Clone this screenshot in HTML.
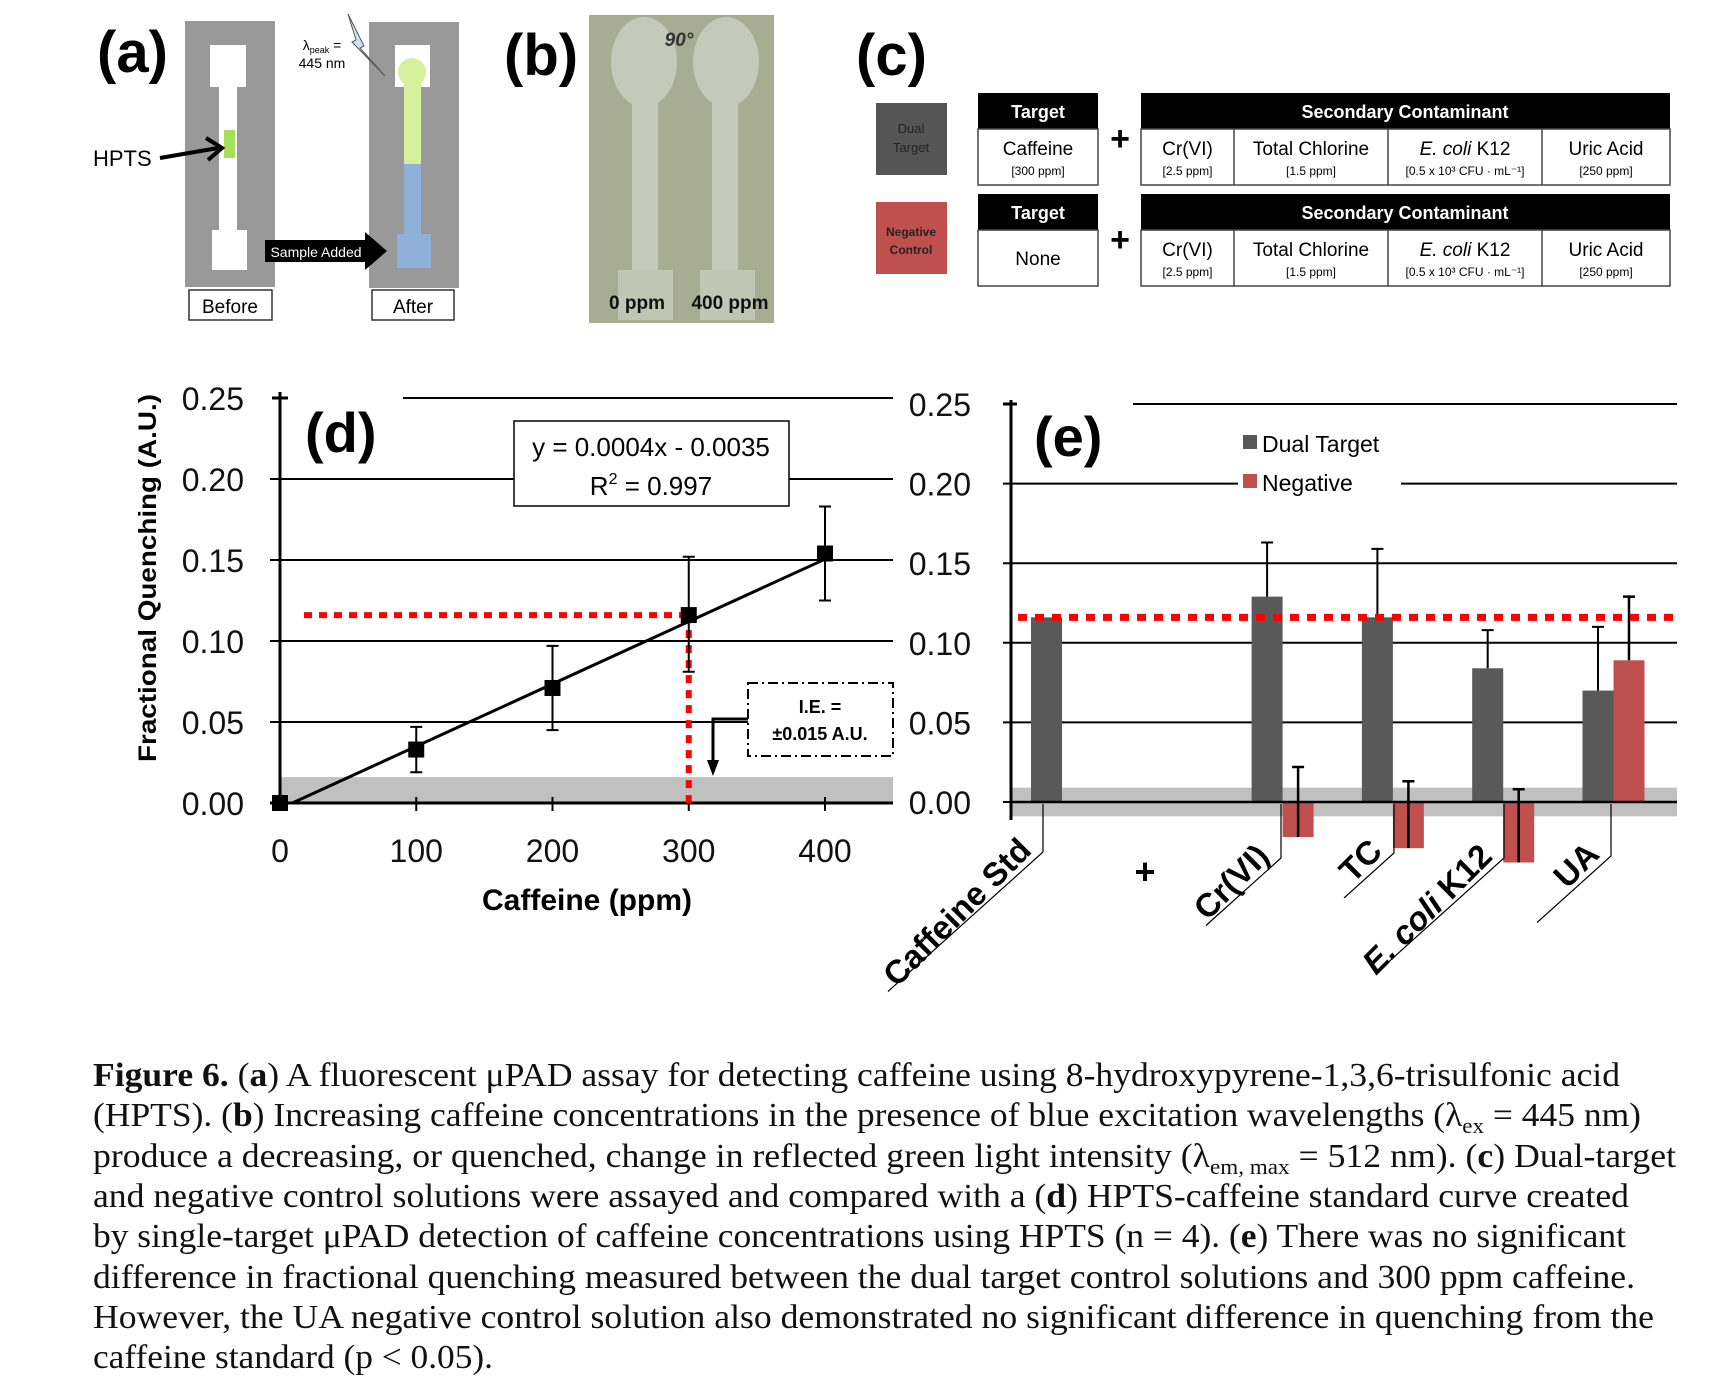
<!DOCTYPE html>
<html><head><meta charset="utf-8"><style>
html,body{margin:0;padding:0;background:#fff}
svg{display:block}
text{font-family:"Liberation Sans",sans-serif}
.cap{font-family:"Liberation Serif",serif;font-size:34px;fill:#111}
</style></head><body>
<svg id="fig" width="1724" height="1392" viewBox="0 0 1724 1392" xmlns="http://www.w3.org/2000/svg">
<!-- Panel a -->
<g>
<text x="97" y="72" font-size="58" font-weight="bold">(a)</text>
<rect x="185" y="21" width="90" height="266" fill="#999"/>
<rect x="210" y="45" width="36" height="42" fill="#fff"/>
<rect x="219" y="87" width="18" height="145" fill="#fff"/>
<rect x="212" y="230" width="35" height="40" fill="#fff"/>
<rect x="224" y="130" width="11" height="28" fill="#a6e05a"/>
<text x="93" y="166" font-size="22">HPTS</text>
<line x1="160" y1="158" x2="218" y2="148" stroke="#000" stroke-width="4"/>
<path d="M206 138 L222 148 L208 160" fill="none" stroke="#000" stroke-width="4"/>
<rect x="369" y="22" width="90" height="266" fill="#999"/>
<rect x="395" y="45" width="35" height="42" fill="#fff"/>
<circle cx="412" cy="72" r="14" fill="#d4f09a"/>
<rect x="404" y="72" width="17" height="92" fill="#d4f09a"/>
<rect x="404" y="164" width="17" height="70" fill="#8fb0d8"/>
<rect x="397" y="234" width="34" height="34" fill="#8fb0d8"/>
<polygon points="265,240 365,240 365,232 387,251 365,270 365,262 265,262" fill="#000"/>
<text x="316" y="257" font-size="14" fill="#fff" text-anchor="middle">Sample Added</text>
<text x="322" y="50" font-size="14" text-anchor="middle">λ<tspan font-size="9" dy="3">peak</tspan><tspan dy="-3"> =</tspan></text>
<text x="322" y="68" font-size="14" text-anchor="middle">445 nm</text>
<polygon points="348,14 356,40 352,42 385,76 360,48 364,46" fill="#cfe3ee" stroke="#555" stroke-width="1"/>
<rect x="189" y="290" width="83" height="30" fill="#fff" stroke="#333" stroke-width="1.5"/>
<text x="230" y="313" font-size="19" text-anchor="middle">Before</text>
<rect x="372" y="290" width="82" height="30" fill="#fff" stroke="#333" stroke-width="1.5"/>
<text x="413" y="313" font-size="19" text-anchor="middle">After</text>
</g>
<!-- Panel b -->
<g>
<text x="504" y="75" font-size="58" font-weight="bold">(b)</text>
<rect x="589" y="15" width="185" height="308" fill="#a7ac92"/>
<ellipse cx="644" cy="62" rx="33" ry="45" fill="#c4cab9"/>
<ellipse cx="726" cy="62" rx="33" ry="45" fill="#c4cab9"/>
<rect x="632" y="95" width="26" height="195" fill="#c4cab9"/>
<rect x="712" y="95" width="26" height="195" fill="#c4cab9"/>
<rect x="618" y="270" width="55" height="50" fill="#c0c6b4"/>
<rect x="700" y="270" width="55" height="50" fill="#c0c6b4"/>
<text x="679" y="46" font-size="19" font-style="italic" font-weight="bold" fill="#333" text-anchor="middle">90°</text>
<text x="637" y="309" font-size="19" font-weight="bold" fill="#111" text-anchor="middle">0 ppm</text>
<text x="730" y="309" font-size="19" font-weight="bold" fill="#111" text-anchor="middle">400 ppm</text>
</g>
<!-- Panel c -->
<g>
<text x="856" y="75" font-size="58" font-weight="bold">(c)</text>
<rect x="876" y="103" width="71" height="72" fill="#555"/>
<text x="911" y="133" font-size="13" fill="#222" text-anchor="middle">Dual</text>
<text x="911" y="152" font-size="13" fill="#222" text-anchor="middle">Target</text>
<rect x="876" y="202" width="71" height="72" fill="#c0504d"/>
<text x="911" y="236" font-size="12" font-weight="bold" fill="#222" text-anchor="middle">Negative</text>
<text x="911" y="254" font-size="12" font-weight="bold" fill="#222" text-anchor="middle">Control</text>
<g id="tables"></g>
</g>
<!-- Panel d -->
<g id="chartD"></g>
<!-- Panel e -->
<g id="chartE"></g>
<!-- Caption -->
<g>
<text class="cap" x="93" y="1086" textLength="1527" lengthAdjust="spacingAndGlyphs"><tspan font-weight="bold">Figure 6.</tspan>  (<tspan font-weight="bold">a</tspan>) A fluorescent μPAD assay for detecting caffeine using 8-hydroxypyrene-1,3,6-trisulfonic acid</text>
<text class="cap" x="93" y="1126" textLength="1548" lengthAdjust="spacingAndGlyphs">(HPTS). (<tspan font-weight="bold">b</tspan>) Increasing caffeine concentrations in the presence of blue excitation wavelengths (λ<tspan font-size="22" dy="7">ex</tspan><tspan dy="-7"> = 445 nm)</tspan></text>
<text class="cap" x="93" y="1167" textLength="1583" lengthAdjust="spacingAndGlyphs">produce a decreasing, or quenched, change in reflected green light intensity (λ<tspan font-size="22" dy="7">em, max</tspan><tspan dy="-7"> = 512 nm). (</tspan><tspan font-weight="bold">c</tspan>) Dual-target</text>
<text class="cap" x="93" y="1207" textLength="1536" lengthAdjust="spacingAndGlyphs">and negative control solutions were assayed and compared with a (<tspan font-weight="bold">d</tspan>) HPTS-caffeine standard curve created</text>
<text class="cap" x="93" y="1247" textLength="1533" lengthAdjust="spacingAndGlyphs">by single-target μPAD detection of caffeine concentrations using HPTS (n = 4). (<tspan font-weight="bold">e</tspan>) There was no significant</text>
<text class="cap" x="93" y="1288" textLength="1542" lengthAdjust="spacingAndGlyphs">difference in fractional quenching measured between the dual target control solutions and 300 ppm caffeine.</text>
<text class="cap" x="93" y="1328" textLength="1561" lengthAdjust="spacingAndGlyphs">However, the UA negative control solution also demonstrated no significant difference in quenching from the</text>
<text class="cap" x="93" y="1368" textLength="400" lengthAdjust="spacingAndGlyphs">caffeine standard (p &lt; 0.05).</text>
</g>
</svg>
<script>
const NS='http://www.w3.org/2000/svg';
function mk(parent,tag,attrs,txt){const e=document.createElementNS(NS,tag);for(const k in attrs)e.setAttribute(k,attrs[k]);if(txt!==undefined)e.textContent=txt;parent.appendChild(e);return e;}

// ---- Panel c tables ----
const tRows=[{y:93,target:'Caffeine',tsub:'[300 ppm]'},{y:194,target:'None',tsub:''}];
const secNames=['Cr(VI)','Total Chlorine','E. coli K12','Uric Acid'];
const secSubs=['[2.5 ppm]','[1.5 ppm]','[0.5 x 10³ CFU · mL⁻¹]','[250 ppm]'];
const colX=[1141,1234,1388,1542,1670];
const tg=document.getElementById('tables');
tRows.forEach((r,ri)=>{
  const h=r.y, bodyH=56;
  let e=mk(tg,'rect',{x:978,y:h,width:120,height:36,fill:'#000'});
  
  
  mk(tg,'text',{x:1038,y:h+25,'font-size':18,'font-weight':'bold',fill:'#fff','text-anchor':'middle'},'Target');
  mk(tg,'rect',{x:978,y:h+36,width:120,height:bodyH,fill:'#fff',stroke:'#444','stroke-width':1.5});
  if(r.tsub){mk(tg,'text',{x:1038,y:h+62,'font-size':19,'text-anchor':'middle'},r.target);mk(tg,'text',{x:1038,y:h+82,'font-size':12,'text-anchor':'middle'},r.tsub);}
  else mk(tg,'text',{x:1038,y:h+71,'font-size':19,'text-anchor':'middle'},r.target);
  mk(tg,'text',{x:1120,y:h+57,'font-size':34,'font-weight':'bold','text-anchor':'middle'},'+');
  e=mk(tg,'rect',{x:1141,y:h,width:529,height:36,fill:'#000'});
  
  
  mk(tg,'text',{x:1405,y:h+25,'font-size':18,'font-weight':'bold',fill:'#fff','text-anchor':'middle'},'Secondary Contaminant');
  mk(tg,'rect',{x:1141,y:h+36,width:529,height:bodyH,fill:'#fff',stroke:'#444','stroke-width':1.5});
  secNames.forEach((n,i)=>{
    const cx=(colX[i]+colX[i+1])/2;
    if(i>0)mk(tg,'line',{x1:colX[i],y1:h+36,x2:colX[i],y2:h+36+bodyH,stroke:'#444','stroke-width':1.5});
    const t=mk(tg,'text',{x:cx,y:h+62,'font-size':19,'text-anchor':'middle'},n);
    if(i===2){t.textContent='';mk(t,'tspan',{'font-style':'italic'},'E. coli');mk(t,'tspan',{},' K12');}
    mk(tg,'text',{x:cx,y:h+82,'font-size':12,'text-anchor':'middle'},secSubs[i]);
  });
});

// ---- Panel d data ----
const dX=[0,100,200,300,400];
const dY=[0,0.033,0.071,0.116,0.154];
const dErrLo=[0,0.014,0.026,0.035,0.029];
const dErrHi=[0,0.014,0.026,0.036,0.029];
const dXTicks=[0,100,200,300,400];
const dYTicks=[0,0.05,0.10,0.15,0.20,0.25];
const dSlope=[0.000385];
const dIntercept=[-0.0035];
const dThreshold=[0.116];
const dBand=[0.016];

const D=document.getElementById('chartD');
const dx=v=>280+v*1.3625, dy=v=>803-v*1620;
mk(D,'rect',{x:280,y:dy(dBand[0]),width:893-280,height:dy(0)-dy(dBand[0]),fill:'#c0c0c0'});
dYTicks.forEach(t=>{
  const l=mk(D,'line',{x1:t===0.25?403:270,y1:dy(t),x2:893,y2:dy(t),stroke:'#000','stroke-width':t===0?3:2});
  
  
  const tx=mk(D,'text',{x:244,y:dy(t)+12,'font-size':32,'text-anchor':'end',fill:'#111'},t.toFixed(2));
  
  
});
const eb=mk(D,'rect',{x:514,y:421,width:275,height:85,fill:'#fff',stroke:'#000','stroke-width':1.5});


mk(D,'text',{x:651,y:456,'font-size':26,'text-anchor':'middle'},'y = 0.0004x - 0.0035');
const r2=mk(D,'text',{x:651,y:495,'font-size':26,'text-anchor':'middle'},'R');
mk(r2,'tspan',{'font-size':16,dy:-11},'2');
mk(r2,'tspan',{dy:11},' = 0.997');
mk(D,'line',{x1:280,y1:392,x2:280,y2:808,stroke:'#000','stroke-width':3});
mk(D,'line',{x1:272,y1:dy(0.25),x2:288,y2:dy(0.25),stroke:'#000','stroke-width':3});
dXTicks.forEach(t=>{
  mk(D,'line',{x1:dx(t),y1:dy(0)-6,x2:dx(t),y2:dy(0)+8,stroke:'#000','stroke-width':2});
  const tx=mk(D,'text',{x:dx(t),y:862,'font-size':32,'text-anchor':'middle',fill:'#111'},String(t));
  
  
});
let t=mk(D,'text',{x:587,y:910,'font-size':30,'font-weight':'bold','text-anchor':'middle'},'Caffeine (ppm)');


t=mk(D,'text',{x:0,y:0,'font-size':25,'font-weight':'bold','text-anchor':'middle',transform:'translate(156,578) rotate(-90)',textLength:368,lengthAdjust:'spacingAndGlyphs'},'Fractional Quenching (A.U.)');


t=mk(D,'text',{x:305,y:452,'font-size':56,'font-weight':'bold'},'(d)');


mk(D,'line',{x1:304,y1:dy(dThreshold[0]),x2:dx(300),y2:dy(dThreshold[0]),stroke:'#f00','stroke-width':6,'stroke-dasharray':'8 7'});
mk(D,'line',{x1:dx(300),y1:dy(dThreshold[0]),x2:dx(300),y2:dy(0),stroke:'#f00','stroke-width':6,'stroke-dasharray':'8 7'});
const x0=-dIntercept[0]/dSlope[0];
const rl=mk(D,'line',{x1:dx(x0),y1:dy(0),x2:dx(400),y2:dy(dSlope[0]*400+dIntercept[0]),stroke:'#000','stroke-width':3});


dX.forEach((xv,i)=>{
  const cx=dx(xv),cy=dy(dY[i]);
  if(dErrHi[i]>0){
    const top=dy(dY[i]+dErrHi[i]),bot=dy(dY[i]-dErrLo[i]);
    const eg=mk(D,'path',{d:`M${cx} ${top}V${bot}M${cx-6} ${top}H${cx+6}M${cx-6} ${bot}H${cx+6}`,stroke:'#000','stroke-width':2,fill:'none'});
    
    
  }
  const p=mk(D,'rect',{x:cx-8,y:cy-8,width:16,height:16,fill:'#000'});
  
  
});
const ieb=mk(D,'rect',{x:748,y:683,width:145,height:73,fill:'#fff',stroke:'#000','stroke-width':2,'stroke-dasharray':'10 4 2 4'});


mk(D,'text',{x:820,y:713,'font-size':18,'font-weight':'bold','text-anchor':'middle'},'I.E. =');
mk(D,'text',{x:820,y:740,'font-size':18,'font-weight':'bold','text-anchor':'middle'},'±0.015 A.U.');
mk(D,'path',{d:'M748 719 H713 V765',stroke:'#000','stroke-width':3,fill:'none'});
mk(D,'polygon',{points:'707,760 719,760 713,776',fill:'#000'});

// ---- Panel e data ----
const eCats=['Caffeine Std','Cr(VI)','TC','E. coli K12','UA'];
const eSlots=[0,2,3,4,5];
const eDual=[0.116,0.129,0.116,0.084,0.070];
const eDualErr=[0,0.034,0.043,0.024,0.040];
const eNeg=[null,-0.022,-0.029,-0.038,0.089];
const eNegErr=[null,0.044,0.042,0.046,0.040];
const eYTicks=[0,0.05,0.10,0.15,0.20,0.25];
const eThreshold=[0.116];
const eBand=[0.009];

const E=document.getElementById('chartE');
const ey=v=>802-v*1592;
const slotX=s=>1031+s*110.3;
const BW=31;
mk(E,'rect',{x:1011,y:ey(eBand[0]),width:1677-1011,height:ey(-eBand[0])-ey(eBand[0]),fill:'#c0c0c0'});
eYTicks.forEach(tv=>{
  const segs=tv===0.25?[[1133,1677]]:(tv===0.20?[[1003,1238],[1401,1677]]:[[1003,1677]]);
  segs.forEach(s=>{
    const l=mk(E,'line',{x1:s[0],y1:ey(tv),x2:s[1],y2:ey(tv),stroke:'#000','stroke-width':2});
    
    
  });
  const tx=mk(E,'text',{x:971,y:ey(tv)+12,'font-size':32,'text-anchor':'end',fill:'#111'},tv.toFixed(2));
  
  
});
mk(E,'line',{x1:1011,y1:ey(0.25)-4,x2:1011,y2:820,stroke:'#000','stroke-width':3});
mk(E,'line',{x1:1003,y1:ey(0.25),x2:1017,y2:ey(0.25),stroke:'#000','stroke-width':3});
t=mk(E,'text',{x:1034,y:456,'font-size':56,'font-weight':'bold'},'(e)');


let lg=mk(E,'rect',{x:1243,y:435,width:14,height:14,fill:'#595959'});


mk(E,'text',{x:1262,y:452,'font-size':23},'Dual Target');
lg=mk(E,'rect',{x:1243,y:474,width:14,height:14,fill:'#c0504d'});


mk(E,'text',{x:1262,y:491,'font-size':23},'Negative');
eCats.forEach((c,i)=>{
  const x=slotX(eSlots[i]);
  const v=eDual[i];
  let b=mk(E,'rect',{x:x,y:Math.min(ey(v),ey(0)),width:BW,height:Math.abs(ey(v)-ey(0)),fill:'#595959'});
  
  
  if(eDualErr[i]>0){
    const cx=x+BW/2,top=ey(v+eDualErr[i]);
    const eg=mk(E,'path',{d:`M${cx} ${ey(v)}V${top}M${cx-6} ${top}H${cx+6}`,stroke:'#000','stroke-width':2,fill:'none'});
    
    
  }
  const n=eNeg[i];
  if(n!==null){
    const nx=x+BW;
    b=mk(E,'rect',{x:nx,y:Math.min(ey(n),ey(0)),width:BW,height:Math.abs(ey(n)-ey(0)),fill:'#c0504d'});
    
    
    const cx=nx+BW/2,top=ey(n+eNegErr[i]);
    const eg=mk(E,'path',{d:`M${cx} ${ey(n)}V${top}M${cx-6} ${top}H${cx+6}`,stroke:'#000','stroke-width':2.5,fill:'none'});
    
    
  }
});
mk(E,'line',{x1:1011,y1:ey(0),x2:1677,y2:ey(0),stroke:'#000','stroke-width':2.5});
mk(E,'line',{x1:1018,y1:ey(eThreshold[0]),x2:1674,y2:ey(eThreshold[0]),stroke:'#f00','stroke-width':7,'stroke-dasharray':'9 8'});
const leadX=[1043,1281,1394,1504,1611];
const leadY=[852,858,853,858,856];
const leadLen=[155,75,50,128,74];
eCats.forEach((c,i)=>{
  const vx=leadX[i],vy=leadY[i],L=leadLen[i];
  mk(E,'path',{d:`M${vx} ${ey(0)+2}V${vy}L${vx-L} ${vy+L*0.9}`,stroke:'#000','stroke-width':1.2,fill:'none'});
  const tx=mk(E,'text',{x:0,y:0,'font-size':33,'font-weight':'bold','text-anchor':'end',transform:`translate(${vx-10},${vy}) rotate(-45)`},'');
  
  
  if(c==='E. coli K12'){mk(tx,'tspan',{'font-style':'italic'},'E. coli');mk(tx,'tspan',{},' K12');}
  else tx.textContent=c;
});
t=mk(E,'text',{x:1145,y:884,'font-size':36,'font-weight':'bold','text-anchor':'middle'},'+');


</script>
</body></html>
